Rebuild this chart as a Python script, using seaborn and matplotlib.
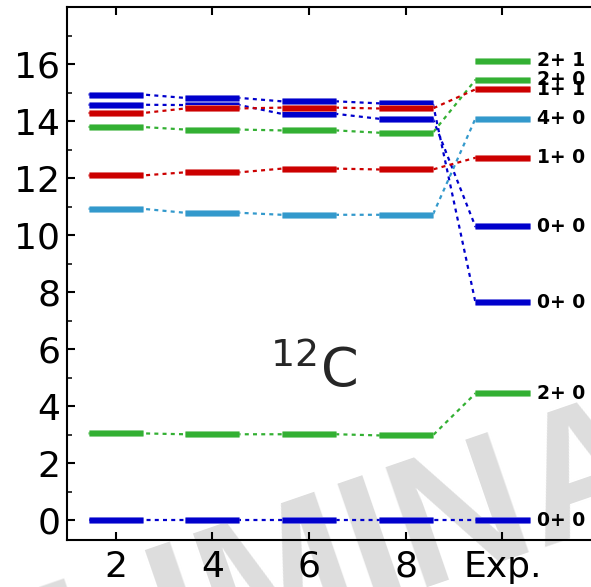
import matplotlib
matplotlib.use("Agg")
import matplotlib.pyplot as plt
import matplotlib.patheffects as pe
import seaborn as sns
import pandas as pd
import numpy as np

# ---------------- data ----------------
columns = ["2", "4", "6", "8", "Exp."]
col_x = [2, 4, 6, 8, 10]

# level energies (MeV) for N = 2, 4, 6, 8 and experiment
gs_0p0 = [0.00, 0.00, 0.00, 0.00, 0.00]
lvl_2p0_a = [3.04, 3.01, 3.01, 2.97, 4.44]
lvl_0p0_b = [14.93, 14.81, 14.69, 14.62, 7.65]
lvl_0p0_c = [14.57, 14.56, 14.25, 14.08, 10.30]
lvl_4p0 = [10.92, 10.78, 10.71, 10.71, 14.08]
lvl_1p0 = [12.09, 12.20, 12.33, 12.30, 12.71]
lvl_1p1 = [14.28, 14.44, 14.47, 14.44, 15.11]
lvl_2p0_b = [13.79, 13.70, 13.67, 13.59, 15.44]
lvl_2p1 = [None, None, None, None, 16.11]

state_values = [gs_0p0, lvl_2p0_a, lvl_0p0_b, lvl_0p0_c, lvl_4p0,
                lvl_1p0, lvl_2p0_b, lvl_1p1, lvl_2p1]
state_labels = ["0+ 0", "2+ 0", "0+ 0", "0+ 0", "4+ 0",
                "1+ 0", "2+ 0", "1+ 1", "2+ 1"]
state_colors = ["#0000CC", "#33B033", "#0000CC", "#0000CC", "#3399CC",
                "#CC0000", "#33B033", "#CC0000", "#33B033"]

y_ticks = [0, 2, 4, 6, 8, 10, 12, 14, 16]

# ---------------- style ----------------
sns.set_theme(style="ticks")
plt.rcParams["font.family"] = ["DejaVu Sans"]

W, H = 591, 587
fig = plt.figure(figsize=(W / 100, H / 100), dpi=100)
ax_left = 67.3 / W
ax_bottom = 47 / H
ax = fig.add_axes([ax_left, ax_bottom, 1 - ax_left, 533 / H])
ax.set_facecolor("none")

half = 0.56

# connectors (dotted) via seaborn
for vals, col in zip(state_values, state_colors):
    pts_x, pts_y = [], []
    for cx, v in zip(col_x, vals):
        if v is None:
            continue
        pts_x += [cx - half, cx + half]
        pts_y += [v, v]
    if len(pts_x) > 2:
        df = pd.DataFrame({"x": pts_x, "E": pts_y})
        sns.lineplot(data=df, x="x", y="E", ax=ax, color=col, sort=False,
                     estimator=None, lw=1.6, linestyle=(0, (1.8, 1.9)),
                     zorder=2)

# level bars
def lighten(c, f=0.55):
    r, g, b = matplotlib.colors.to_rgb(c)
    return (r + (1 - r) * f, g + (1 - g) * f, b + (1 - b) * f)

for vals, col in zip(state_values, state_colors):
    for cx, v in zip(col_x, vals):
        if v is None:
            continue
        ax.hlines(v, cx - half, cx + half, color=col, lw=3.9, zorder=3,
                  path_effects=[pe.Stroke(linewidth=5.0, foreground=lighten(col)),
                                pe.Normal()])

# labels at experimental levels
for vals, lab in zip(state_values, state_labels):
    v = vals[-1]
    ax.text(col_x[-1] + half + 0.16, v, lab, fontsize=13.5, fontweight="bold",
            ha="left", va="center", color="black", zorder=5)

ax.text(5.19, 4.66, r"$^{12}$C", fontsize=39, ha="left", va="baseline")

# axes formatting
ax.set_xlim(1, 1 + (W - 67.3) / 48.35)
ax.set_ylim(-0.7, 18)
ax.set_xticks(col_x)
ax.set_xticklabels(columns)
ax.set_yticks(y_ticks)
ax.set_yticks(np.arange(1, 18, 2), minor=True)
ax.set_xlabel("")
ax.set_ylabel("")
for s in ["left", "bottom", "top"]:
    ax.spines[s].set_linewidth(1.5)
    ax.spines[s].set_color("black")
ax.spines["right"].set_visible(False)
ax.tick_params(axis="both", which="major", direction="in", length=6, width=1.5,
               labelsize=26, colors="black", top=True, right=False)
ax.tick_params(axis="y", which="major", pad=5)
ax.tick_params(axis="x", which="major", pad=7)
ax.tick_params(axis="y", which="minor", direction="in", length=3.5, width=1.3,
               left=True, right=False)
ax.grid(False)

# watermark
fig.text(306 / W, 1 - 624 / H, "PRELIMINARY", fontsize=132, fontweight="bold",
         family=["Liberation Sans", "DejaVu Sans"],
         color="#DDDDDD", rotation=19, ha="center", va="baseline",
         rotation_mode="anchor", zorder=-1)

fig.savefig("out.png", dpi=100)
